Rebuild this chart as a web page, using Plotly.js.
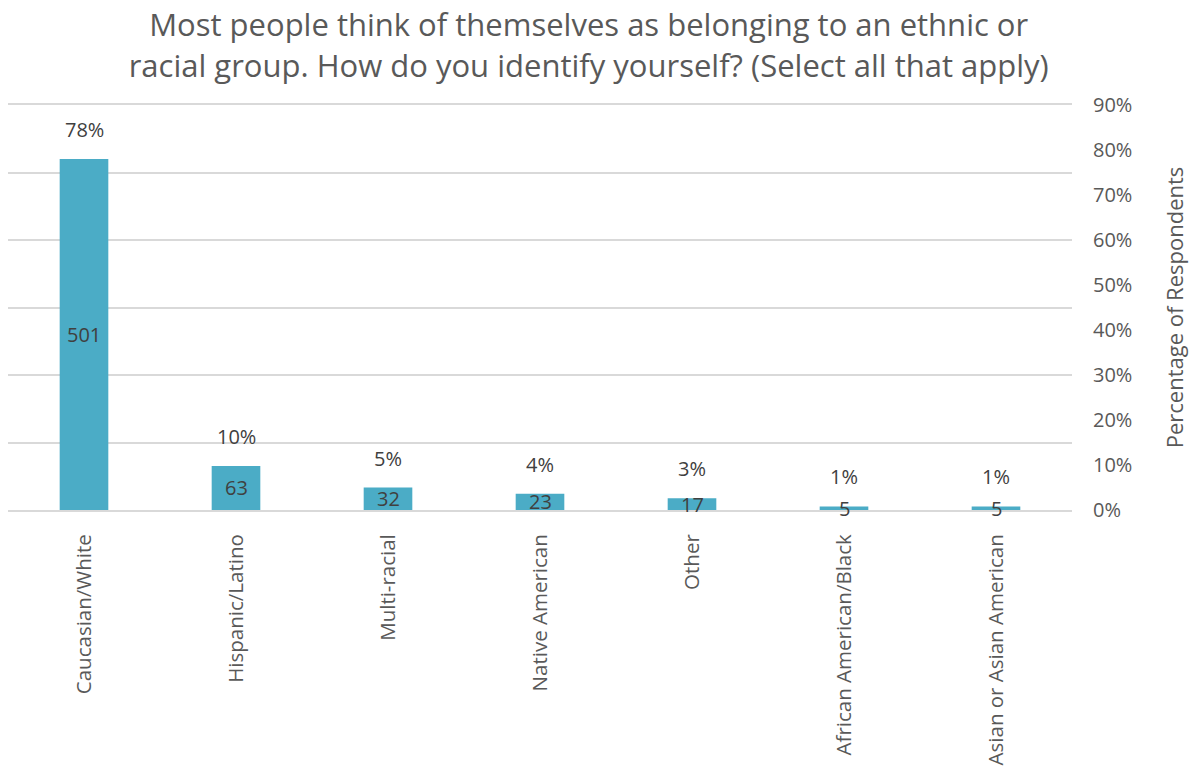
<!DOCTYPE html>
<html>
<head>
<meta charset="utf-8">
<script src="https://cdn.plot.ly/plotly-3.0.1.min.js"></script>
<style>html,body{margin:0;padding:0;background:#fff;}#chart{width:1199px;height:772px;}</style>
</head>
<body>
<div id="chart"></div>
<script>
// Data
const categories = ["Caucasian/White", "Hispanic/Latino", "Multi-racial", "Native American", "Other", "African American/Black", "Asian or Asian American"];
const counts = [501, 63, 32, 23, 17, 5, 5];
const percentages = [0.78, 0.098, 0.05, 0.036, 0.026, 0.008, 0.008];
const percentTicks = [0, 0.1, 0.2, 0.3, 0.4, 0.5, 0.6, 0.7, 0.8, 0.9];

const FONT = "'Open Sans', 'DejaVu Sans', sans-serif";
const BAR = "#4BACC6";

const bars = {
  type: "bar",
  x: categories,
  y: percentages,
  yaxis: "y2",
  marker: {color: BAR},
  width: 0.32,
  hoverinfo: "x+y",
  showlegend: false
};

// invisible trace to establish the primary (count) axis used for gridlines
const gridTrace = {
  type: "scatter",
  x: categories,
  y: counts,
  yaxis: "y",
  mode: "markers",
  marker: {opacity: 0},
  hoverinfo: "skip",
  showlegend: false
};

const labelFont = {family: FONT, size: 20, color: "#404040"};

// count labels centred in each bar
const countAnnotations = categories.map((c, i) => ({
  x: c,
  y: percentages[i] / 2,
  xref: "x",
  yref: "y2",
  text: String(counts[i]),
  showarrow: false,
  yanchor: "middle",
  font: labelFont
}));

// percentage labels above each bar
const pctAnnotations = categories.map((c, i) => ({
  x: c,
  y: percentages[i],
  xref: "x",
  yref: "y2",
  text: Math.round(percentages[i] * 100) + "%",
  showarrow: false,
  yanchor: "bottom",
  yshift: 14,
  font: labelFont
}));

const layout = {
  width: 1199,
  height: 772,
  margin: {l: 8, r: 127, t: 105, b: 262},
  paper_bgcolor: "#fff",
  plot_bgcolor: "#fff",
  font: {family: FONT, color: "#595959"},
  title: {
    text: "Most people think of themselves as belonging to an ethnic or<br>racial group. How do you identify yourself? (Select all that apply)",
    font: {family: FONT, size: 31, color: "#595959"},
    x: 0.491,
    xanchor: "center",
    y: 0.953,
    yanchor: "middle"
  },
  xaxis: {
    type: "category",
    tickangle: -90,
    tickfont: {family: FONT, size: 20.5, color: "#595959"},
    showgrid: false,
    showline: true,
    mirror: "all",
    linecolor: "#D9D9D9",
    linewidth: 2,
    layer: "below traces",
    ticks: "",
    zeroline: false,
    ticklabelstandoff: 14
  },
  yaxis: {
    range: [0, 600],
    dtick: 100,
    showticklabels: false,
    showgrid: true,
    gridcolor: "#D9D9D9",
    gridwidth: 2,
    zeroline: true,
    zerolinecolor: "#D9D9D9",
    zerolinewidth: 2,
    ticks: "",
    layer: "below traces",
    fixedrange: true
  },
  yaxis2: {
    overlaying: "y",
    side: "right",
    range: [0, 0.9],
    tickvals: percentTicks,
    tickformat: ".0%",
    showgrid: false,
    zeroline: false,
    ticks: "",
    ticklabelstandoff: 20,
    tickfont: {family: FONT, size: 20, color: "#595959"},
    title: {
      text: "Percentage of Respondents",
      font: {family: FONT, size: 22, color: "#595959"},
      standoff: 36
    }
  },
  bargap: 0.68,
  annotations: countAnnotations.concat(pctAnnotations)
};

Plotly.newPlot("chart", [gridTrace, bars], layout, {displayModeBar: false, staticPlot: true});
</script>
</body>
</html>
